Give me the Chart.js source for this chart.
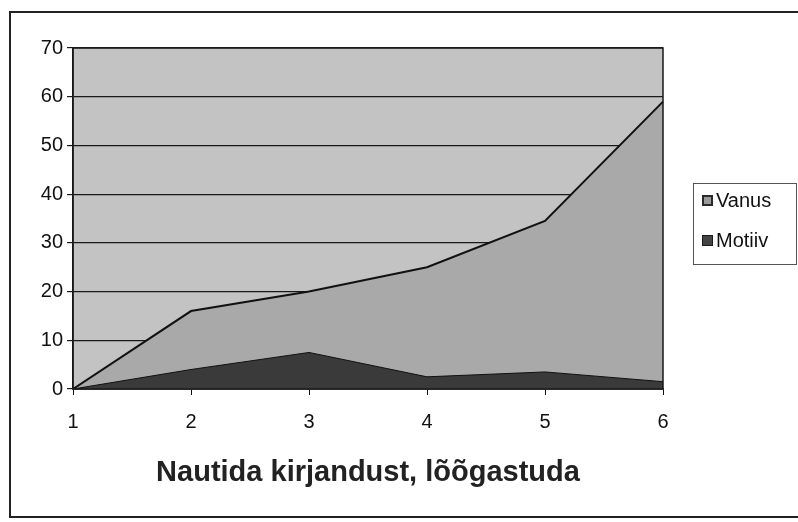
<!DOCTYPE html>
<html>
<head>
<meta charset="utf-8">
<script src="https://cdn.jsdelivr.net/npm/chart.js@4.4.1/dist/chart.umd.min.js"></script>
<style>
  body { margin: 0; background: #fff; }
  #wrap { position: relative; width: 798px; height: 522px; }
  #frame { position: absolute; left: 9px; top: 11px; width: 800px; height: 507px; border: 2px solid #222; box-sizing: border-box; }
  canvas { position: absolute; left: 0; top: 0; }
</style>
</head>
<body>
<div id="wrap">
  <div id="frame"></div>
  <canvas id="grafik" width="798" height="522"></canvas>
</div>
<script>
const kategooriad = ['1', '2', '3', '4', '5', '6'];
const vanus = [0, 16, 20, 25, 34.5, 59];
const motiiv = [0, 4, 7.5, 2.5, 3.5, 1.5];
const pealkiri = 'Nautida kirjandust, lõõgastuda';

const font = '"Liberation Sans", Arial, sans-serif';

// hall taust enne ruudustikku, raam joonisala ümber pärast alasid
const taust = {
    id: 'taust',
    beforeDraw(chart) {
        const a = chart.chartArea;
        const c = chart.ctx;
        c.save();
        c.fillStyle = '#c3c3c3';
        c.fillRect(a.left, a.top, a.right - a.left, a.bottom - a.top);
        c.restore();
    },
    afterDatasetsDraw(chart) {
        const a = chart.chartArea;
        const c = chart.ctx;
        c.save();
        c.strokeStyle = '#1a1a1a';
        c.lineWidth = 1.5;
        c.strokeRect(a.left, a.top, a.right - a.left, a.bottom - a.top);
        c.restore();
    }
};

// legend kastiga paremal
const legend = {
    id: 'legendKast',
    afterDraw(chart) {
        const c = chart.ctx;
        c.save();
        c.fillStyle = '#fff';
        c.fillRect(693, 183, 103, 81);
        c.strokeStyle = '#555';
        c.lineWidth = 1;
        c.strokeRect(693.5, 183.5, 103, 81);
        c.font = '20px ' + font;
        c.textBaseline = 'middle';
        // Vanus
        c.fillStyle = '#2a2a2a';
        c.fillRect(702, 195, 11, 11);
        c.fillStyle = '#9a9a9a';
        c.fillRect(704, 197, 7, 7);
        c.fillStyle = '#111';
        c.fillText(chart.data.datasets[0].label, 716, 201);
        // Motiiv
        c.fillStyle = '#1a1a1a';
        c.fillRect(702, 235, 11, 11);
        c.fillStyle = '#444';
        c.fillRect(703, 236, 9, 9);
        c.fillStyle = '#111';
        c.fillText(chart.data.datasets[1].label, 716, 241);
        c.restore();
    }
};

new Chart(document.getElementById('grafik'), {
    type: 'line',
    data: {
        labels: kategooriad,
        datasets: [{
            label: 'Vanus',
            data: vanus,
            fill: 'origin',
            backgroundColor: '#a9a9a9',
            borderColor: '#111',
            borderWidth: 2,
            pointRadius: 0,
            tension: 0,
            order: 1
        }, {
            label: 'Motiiv',
            data: motiiv,
            fill: 'origin',
            backgroundColor: '#3a3a3a',
            borderColor: '#111',
            borderWidth: 1,
            pointRadius: 0,
            tension: 0,
            order: 0
        }]
    },
    options: {
        responsive: false,
        animation: false,
        layout: { padding: { left: 0, right: 135, top: 48, bottom: 0 } },
        plugins: {
            legend: { display: false },
            tooltip: { enabled: false }
        },
        scales: {
            x: {
                offset: false,
                afterFit(s) { s.height = 133; },
                grid: { display: true, drawOnChartArea: false, drawTicks: true, tickLength: 6, color: '#111' },
                border: { color: '#111', width: 1.5 },
                ticks: { color: '#111', padding: 15, maxRotation: 0, font: { family: font, size: 20 } },
                title: {
                    display: true,
                    text: pealkiri,
                    color: '#222',
                    padding: { top: 0, bottom: 32 },
                    font: { family: font, size: 29, weight: 'bold' }
                }
            },
            y: {
                min: 0,
                max: 70,
                afterFit(s) { s.width = 73; },
                grid: { color: '#1a1a1a', lineWidth: 1.2, drawTicks: true, tickLength: 6 },
                border: { color: '#111', width: 1.5 },
                ticks: { stepSize: 10, color: '#111', padding: 4, font: { family: font, size: 20 } }
            }
        }
    },
    plugins: [taust, legend]
});
</script>
</body>
</html>
